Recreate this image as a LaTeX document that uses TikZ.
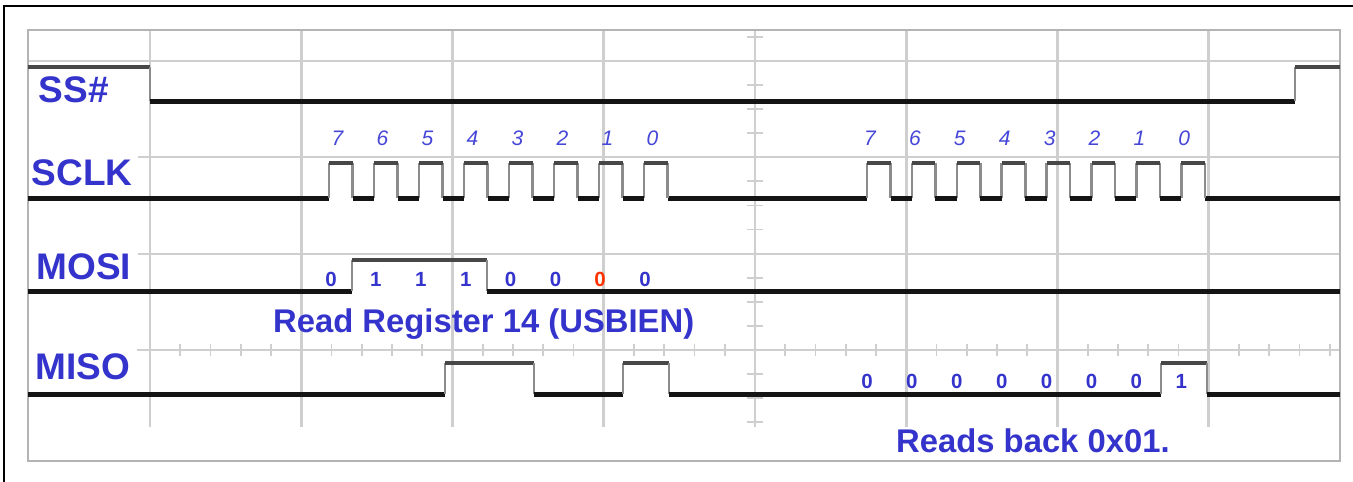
\documentclass[tikz,border=0pt]{standalone}
\usepackage{fontspec}
\setmainfont{Liberation Sans}
\definecolor{lblue}{HTML}{3434CC}
\definecolor{iblue}{HTML}{4646D8}
\definecolor{redbit}{HTML}{FF3300}
\definecolor{gridc}{HTML}{CFCFCF}
\definecolor{framec}{HTML}{B4B4B4}
\begin{document}
\begin{tikzpicture}[x=1pt,y=-1pt,
  vgrid/.style={draw=gridc,line width=2.6pt},
  hgrid/.style={draw=gridc,line width=1.8pt},
  tickmark/.style={draw=gridc,line width=1.8pt},
  lo/.style={draw=black!92,line width=5pt},
  hi/.style={draw=black!72,line width=3.2pt},
  edge/.style={draw=black!45,line width=2.6pt},
  siglabel/.style={anchor=base west,inner sep=0pt,text=lblue,font=\fontsize{37}{40}\selectfont\bfseries},
  clkbit/.style={anchor=base,inner sep=0pt,text=iblue,font=\fontsize{21}{24}\selectfont\itshape},
  databit/.style={anchor=base,inner sep=0pt,text=lblue,font=\fontsize{20.5}{22}\selectfont\bfseries},
  note/.style={anchor=base west,inner sep=0pt,text=lblue,font=\fontsize{32.8}{36}\selectfont\bfseries}]
\useasboundingbox (0,0) rectangle (1353,482);
\fill[white] (0,0) rectangle (1353,482);
% outer frame
\draw[black,line width=2pt] (4,482) -- (4,6) -- (1353,6);
% grid
\foreach \k in {0,1,2,3,5,6,7} \draw[vgrid] (150+151.25*\k,30) -- (150+151.25*\k,427);
\draw[vgrid] (755,30) -- (755,427);
\foreach \k in {-3,...,13} \draw[tickmark] (747,350-24.1*\k) -- (763,350-24.1*\k);
\draw[hgrid] (28,61) -- (1340,61);
\draw[hgrid] (138,157) -- (1340,157);
\draw[hgrid] (138,254) -- (1340,254);
\draw[hgrid] (137,350) -- (1340,350);
\foreach \k in {1,...,39} \draw[tickmark] (150+30.25*\k,344) -- (150+30.25*\k,356);
\draw[framec,line width=2pt] (28,30) rectangle (1340,461);
% SS#
\draw[hi] (28,67) -- (150,67);
\draw[edge] (150,67) -- (150,101);
\draw[lo] (150,101) -- (1295,101);
\draw[edge] (1295,101) -- (1295,67);
\draw[hi] (1295,67) -- (1340,67);
% SCLK
\draw[lo] (28,198) -- (329,198);
\draw[lo] (667.5,198) -- (867,198);
\draw[lo] (1204.8,198) -- (1340,198);
\foreach \k in {0,...,7} {
  \draw[edge] (329+45*\k,198) -- (329+45*\k,163);
  \draw[edge] (352.5+45*\k,163) -- (352.5+45*\k,198);
  \draw[hi] (329+45*\k,163) -- (352.5+45*\k,163);
  \draw[edge] (867+44.9*\k,198) -- (867+44.9*\k,163);
  \draw[edge] (890.5+44.9*\k,163) -- (890.5+44.9*\k,198);
  \draw[hi] (867+44.9*\k,163) -- (890.5+44.9*\k,163);
}
\foreach \k in {0,...,6} {
  \draw[lo] (352.5+45*\k,198) -- (374+45*\k,198);
  \draw[lo] (890.5+44.9*\k,198) -- (911.9+44.9*\k,198);
}
% MOSI
\draw[lo] (28,291) -- (352,291);
\draw[edge] (352,291) -- (352,260);
\draw[hi] (352,260) -- (487,260);
\draw[edge] (487,260) -- (487,291);
\draw[lo] (487,291) -- (1340,291);
% MISO
\draw[lo] (28,394) -- (445,394);
\draw[edge] (445,394) -- (445,363);
\draw[hi] (445,363) -- (534,363);
\draw[edge] (534,363) -- (534,394);
\draw[lo] (534,394) -- (623,394);
\draw[edge] (623,394) -- (623,363);
\draw[hi] (623,363) -- (669,363);
\draw[edge] (669,363) -- (669,394);
\draw[lo] (669,394) -- (1161,394);
\draw[edge] (1161,394) -- (1161,363);
\draw[hi] (1161,363) -- (1207,363);
\draw[edge] (1207,363) -- (1207,394);
\draw[lo] (1207,394) -- (1340,394);
% signal labels
\node[siglabel] (ss) at (38.5,102) {SS\#};
\node[siglabel] (sclk) at (31.5,185) {SCLK};
\node[siglabel] (mosi) at (36.5,279) {MOSI};
\node[siglabel] (miso) at (35.5,379) {MISO};
% clock bit numbers
\foreach \b [count=\i from 0] in {7,6,5,4,3,2,1,0} {
  \node[clkbit] (ca\i) at (337.5+45*\i,145) {\b};
  \node[clkbit] (cb\i) at (870+44.9*\i,145) {\b};
}
% MOSI bits
\foreach \b [count=\i from 0] in {0,1,1,1,0,0} {
  \node[databit] (mo\i) at (331+44.9*\i,286) {\b};
}
\node[databit,text=redbit] (mo6) at (600,286) {0};
\node[databit] (mo7) at (645,286) {0};
% MISO bits
\foreach \b [count=\i from 0] in {0,0,0,0,0,0,0,1} {
  \node[databit] (mi\i) at (867+44.9*\i,388) {\b};
}
% notes
\node[note] (rr) at (273,332) {Read Register 14 (USBIEN)};
\node[note] (rb) at (896,452) {Reads back 0x01.};
\end{tikzpicture}
\end{document}
